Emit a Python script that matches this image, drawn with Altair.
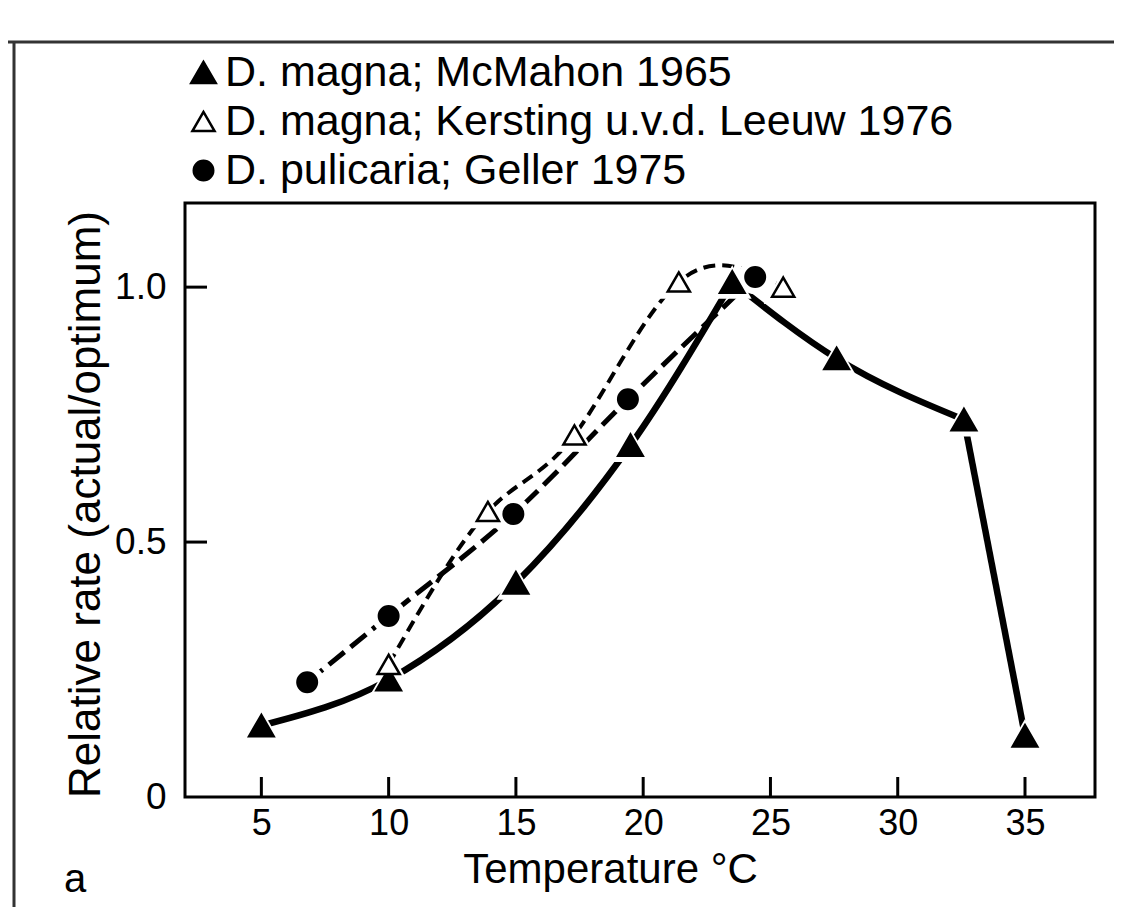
import altair as alt
import pandas as pd

FONT = "Liberation Sans, Arial, sans-serif"

SERIES = [
    "D. magna; McMahon 1965",
    "D. magna; Kersting u.v.d. Leeuw 1976",
    "D. pulicaria; Geller 1975",
]

# McMahon 1965 (filled triangles)
mcmahon_temp = [5, 10, 15, 19.5, 23.5, 27.6, 32.6, 35]
mcmahon_rate = [0.14, 0.23, 0.42, 0.69, 1.01, 0.86, 0.74, 0.12]
mcmahon_seg = ["rise", "rise", "rise", "rise", "rise", "fall", "fall", "drop"]
# Kersting u.v.d. Leeuw 1976 (open triangles)
kersting_temp = [10, 13.9, 17.3, 21.4, 25.5]
kersting_rate = [0.26, 0.56, 0.71, 1.01, 1.0]
# Geller 1975 (filled circles)
geller_temp = [6.8, 10, 14.9, 19.4, 24.4]
geller_rate = [0.225, 0.355, 0.555, 0.78, 1.02]

x_ticks = [5, 10, 15, 20, 25, 30, 35]
y_ticks = [0, 0.5, 1.0]
y_inner_ticks = [0.5, 1.0]
panel_letter = ["a"]

W, H = 910, 594

# ---- data frames ----
points = pd.concat([
    pd.DataFrame({"temp": mcmahon_temp, "rate": mcmahon_rate, "series": SERIES[0]}),
    pd.DataFrame({"temp": kersting_temp, "rate": kersting_rate, "series": SERIES[1]}),
    pd.DataFrame({"temp": geller_temp, "rate": geller_rate, "series": SERIES[2]}),
], ignore_index=True)

# McMahon curve drawn as consecutive smooth pieces; each piece shares its end point
rows = []
for i, (t, r, s) in enumerate(zip(mcmahon_temp, mcmahon_rate, mcmahon_seg)):
    rows.append({"temp": t, "rate": r, "seg": s})
    if i + 1 < len(mcmahon_seg) and mcmahon_seg[i + 1] != s:
        rows.append({"temp": t, "rate": r, "seg": mcmahon_seg[i + 1]})
mc_lines = pd.DataFrame(rows)
ke_lines = pd.DataFrame({"temp": kersting_temp, "rate": kersting_rate})
ge_lines = pd.DataFrame({"temp": geller_temp, "rate": geller_rate})

xs = alt.Scale(domain=[2, 37.75], nice=False, zero=False)
ys = alt.Scale(domain=[0, 1.165], nice=False, zero=False)

X = alt.X("temp:Q", scale=xs, axis=alt.Axis(
    title="Temperature °C", values=x_ticks, format="d", grid=False, domain=False,
    tickSize=0, labelPadding=9, labelFontSize=36, labelFont=FONT, labelColor="black",
    titleFont=FONT, titleFontSize=42, titleFontWeight="normal", titleColor="black",
    titleX=425, titleY=85, titleAlign="center", titleBaseline="alphabetic"))
Y = alt.Y("rate:Q", scale=ys, axis=alt.Axis(
    title="Relative rate (actual/optimum)", values=y_ticks,
    labelExpr="datum.value == 0 ? '0' : format(datum.value, '.1f')",
    grid=False, domain=False, tickSize=0, labelPadding=19, labelFontSize=37,
    labelFont=FONT, labelColor="black",
    titleFont=FONT, titleFontSize=44, titleFontWeight="normal", titleColor="black",
    titleX=-86, titleY=H / 2 + 4, titleAlign="center", titleBaseline="alphabetic"))

line_mc = alt.Chart(mc_lines).mark_line(
    interpolate="monotone", color="black", strokeWidth=6.5, strokeCap="butt"
).encode(x=X, y=Y, detail="seg:N")

line_ke = alt.Chart(ke_lines).mark_line(
    interpolate="natural", color="black", strokeWidth=4, strokeDash=[12, 7], strokeCap="butt"
).encode(x=X, y=Y)

line_ge = alt.Chart(ge_lines).mark_line(
    interpolate="monotone", color="black", strokeWidth=5, strokeDash=[20, 8], strokeCap="butt"
).encode(x=X, y=Y)

halo_tri = alt.Chart(points).transform_filter(
    alt.FieldOneOfPredicate(field="series", oneOf=SERIES[:2])
).mark_point(shape="triangle-up", size=1500, filled=True, color="white", opacity=1).encode(x=X, y=Y)

halo_circ = alt.Chart(points).transform_filter(
    alt.FieldEqualPredicate(field="series", equal=SERIES[2])
).mark_point(shape="circle", size=1200, filled=True, color="white", opacity=1).encode(x=X, y=Y)

leg = dict(orient="none", legendX=-3, legendY=-152, title=None, labelFont=FONT,
           labelFontSize=43, labelColor="black", labelOffset=0, rowPadding=5,
           padding=0, symbolStrokeWidth=2.5, labelLimit=1000)

markers = alt.Chart(points).mark_point(
    filled=True, strokeWidth=2.5, opacity=1
).encode(
    x=X, y=Y,
    shape=alt.Shape("series:N", scale=alt.Scale(domain=SERIES, range=["triangle-up", "triangle-up", "circle"]),
                    legend=alt.Legend(**leg)),
    fill=alt.Fill("series:N", scale=alt.Scale(domain=SERIES, range=["black", "white", "black"]),
                  legend=alt.Legend(**leg)),
    stroke=alt.Stroke("series:N", scale=alt.Scale(domain=SERIES, range=["black", "black", "black"]),
                      legend=alt.Legend(**leg)),
    size=alt.Size("series:N", scale=alt.Scale(domain=SERIES, range=[600, 380, 520]),
                  legend=alt.Legend(**leg)),
)

xt = alt.Chart(pd.DataFrame({"t": x_ticks})).mark_rule(color="black", strokeWidth=3).encode(
    x=alt.X("t:Q", scale=xs), y=alt.value(H), y2=alt.value(H - 20))
yt = alt.Chart(pd.DataFrame({"v": y_inner_ticks})).mark_rule(color="black", strokeWidth=3).encode(
    y=alt.Y("v:Q", scale=ys), x=alt.value(0), x2=alt.value(22))

letter = alt.Chart(pd.DataFrame({"lab": panel_letter})).mark_text(
    font=FONT, fontSize=40, color="black", align="center", baseline="alphabetic"
).encode(text="lab:N", x=alt.value(-110), y=alt.value(689))

frame_top = alt.Chart(pd.DataFrame({"k": [0]})).mark_rule(color="#333", strokeWidth=3).encode(
    x=alt.value(-185), x2=alt.value(950), y=alt.value(-161))
frame_left = alt.Chart(pd.DataFrame({"k": [0]})).mark_rule(color="#333", strokeWidth=3).encode(
    x=alt.value(-171), y=alt.value(-161), y2=alt.value(710))
frame_bottom = alt.Chart(pd.DataFrame({"k": [0]})).mark_rule(color="#333", strokeWidth=3).encode(
    x=alt.value(-185), x2=alt.value(950), y=alt.value(710))

chart = alt.layer(
    frame_top, frame_left, frame_bottom,
    line_mc, line_ke, line_ge, halo_tri, halo_circ, markers, xt, yt, letter
).properties(
    width=W, height=H,
    autosize=alt.AutoSizeParams(type="none"),
    padding={"left": 177, "top": 195, "right": 19, "bottom": 110},
    background="white",
).configure_view(stroke="black", strokeWidth=3)

chart.save("out.html", embed_options={"renderer": "svg", "actions": False})
